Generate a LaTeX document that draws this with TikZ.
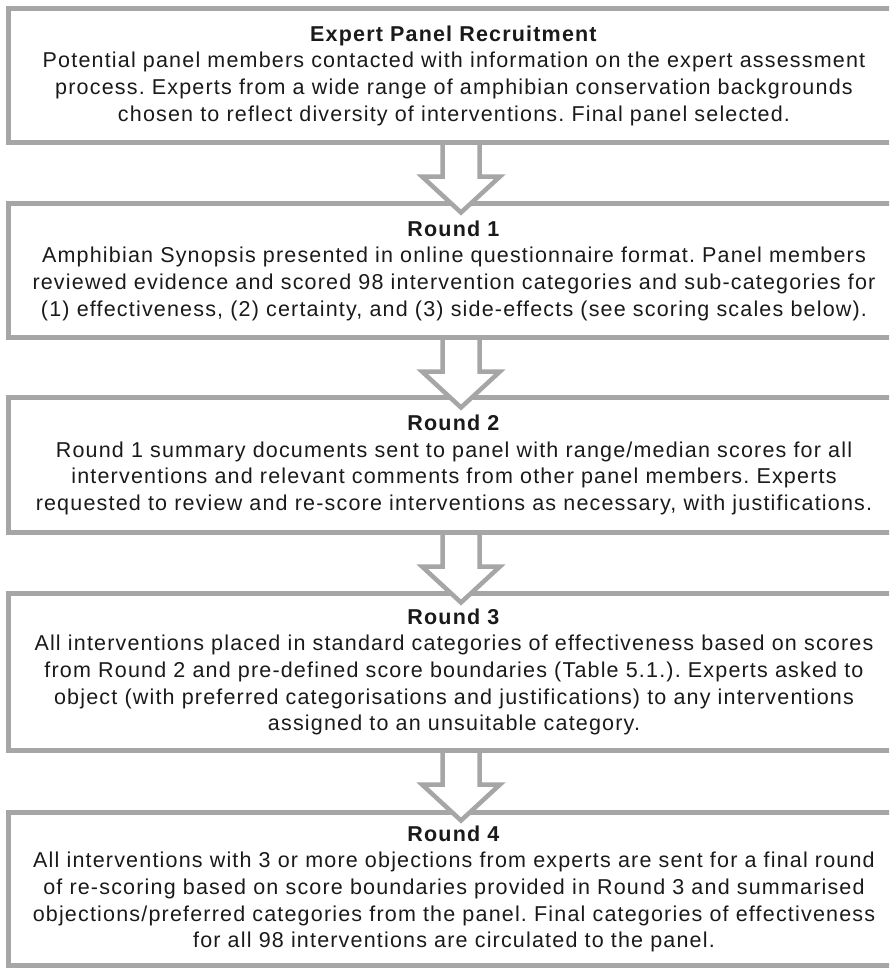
\documentclass[tikz,border=0pt]{standalone}
\usepackage{fontspec}
\setmainfont{Liberation Sans}[LetterSpace=5.5]
\definecolor{bordergray}{HTML}{A6A6A6}
\definecolor{textblack}{HTML}{1A1A1A}
\tikzset{
  stagebox/.style={draw=bordergray, line width=5pt, fill=white, rectangle,
    minimum width=891pt, inner sep=0pt, outer sep=0pt, align=center,
    text=textblack, font=\frenchspacing\fontsize{21.5}{26.7}\selectfont},
  blockarrow/.style={draw=bordergray, line width=4.5pt, fill=white, line join=miter}
}
\begin{document}
\begin{tikzpicture}[x=1pt, y=-1pt]
\useasboundingbox (0,0) rectangle (889,969);
\begin{scope}
\clip (0,0) rectangle (889,969);
\node[stagebox, minimum height=134pt] (b1) at (454,75.5) {\textbf{Expert Panel Recruitment}\\
Potential panel members contacted with information on the expert assessment\\
process. Experts from a wide range of amphibian conservation backgrounds\\
chosen to reflect diversity of interventions. Final panel selected.};
\node[stagebox, minimum height=134pt] (b2) at (454,270.5) {\textbf{Round 1}\\
Amphibian Synopsis presented in online questionnaire format. Panel members\\
reviewed evidence and scored 98 intervention categories and sub-categories for\\
(1) effectiveness, (2) certainty, and (3) side-effects (see scoring scales below).};
\node[stagebox, minimum height=135pt] (b3) at (454,465) {\textbf{Round 2}\\
Round 1 summary documents sent to panel with range/median scores for all\\
interventions and relevant comments from other panel members. Experts\\
requested to review and re-score interventions as necessary, with justifications.};
\node[stagebox, minimum height=157pt] (b4) at (454,672) {\textbf{Round 3}\\
All interventions placed in standard categories of effectiveness based on scores\\
from Round 2 and pre-defined score boundaries (Table 5.1.). Experts asked to\\
object (with preferred categorisations and justifications) to any interventions\\
assigned to an unsuitable category.};
\node[stagebox, minimum height=153pt] (b5) at (454,889) {\textbf{Round 4}\\
All interventions with 3 or more objections from experts are sent for a final round\\
of re-scoring based on score boundaries provided in Round 3 and summarised\\
objections/preferred categories from the panel. Final categories of effectiveness\\
for all 98 interventions are circulated to the panel.};
\foreach \a in {b1,b2,b3,b4} {
  \draw[blockarrow] ([xshift=-11.5pt]\a.south) -- ++(0,34) -- ++(-20.5,0)
    -- ++(39,36) -- ++(39,-36) -- ++(-20.5,0) -- ++(0,-34) -- cycle;
}
\end{scope}
\end{tikzpicture}
\end{document}
